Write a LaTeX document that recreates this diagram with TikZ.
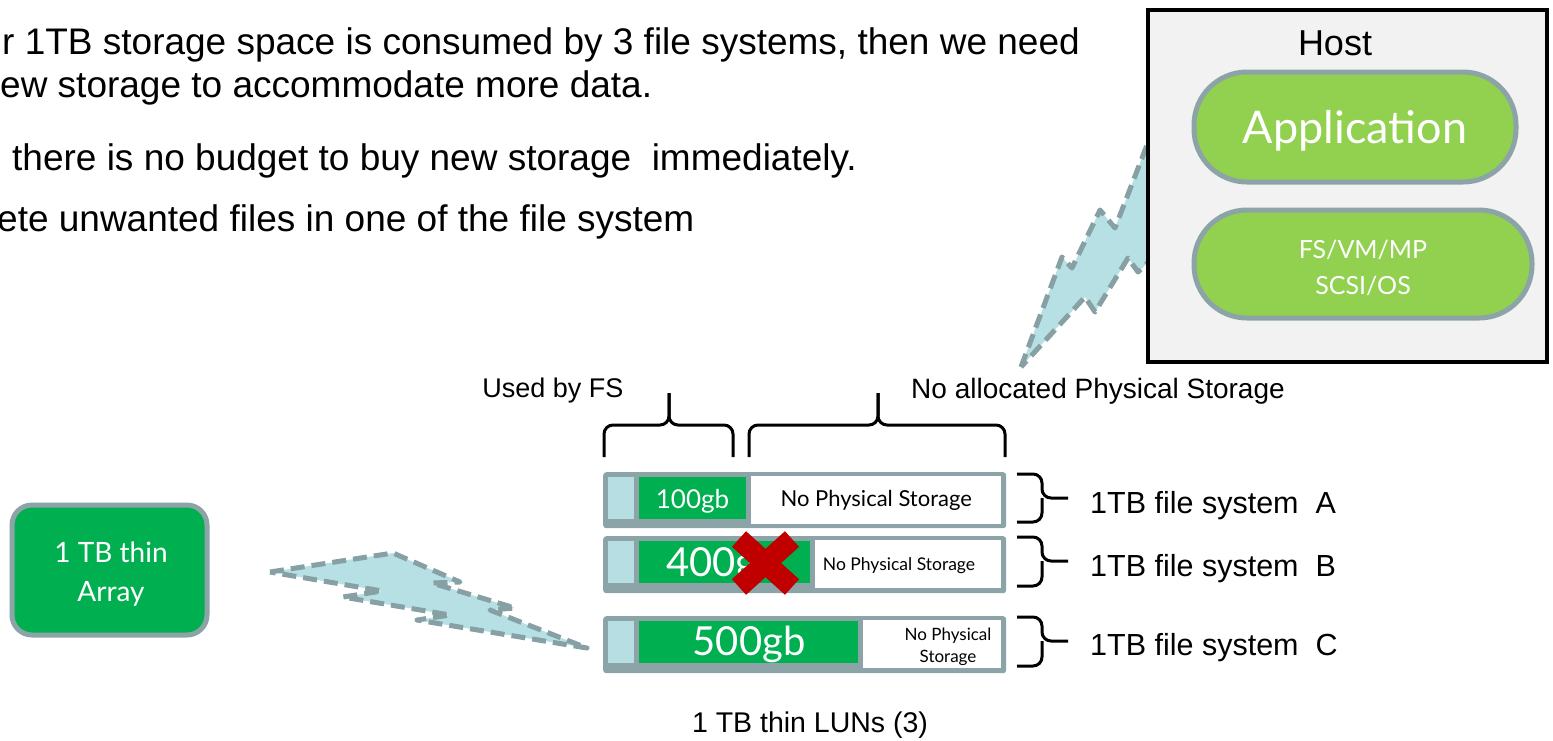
\documentclass[tikz,border=0pt]{standalone}
\usepackage{fontspec}
\setmainfont{Liberation Sans}
\newfontfamily\gill{Lato}
\definecolor{rim}{HTML}{8CA4A7}
\definecolor{boltfill}{HTML}{B7E0E4}
\definecolor{boltline}{HTML}{86A0A3}
\definecolor{appgreen}{HTML}{92D050}
\definecolor{lungreen}{HTML}{00B050}
\definecolor{hostgray}{HTML}{F2F2F2}
\definecolor{xred}{HTML}{C00000}
\definecolor{slotblue}{HTML}{B7DEE2}
\newcommand{\fs}[1]{\fontsize{#1}{1.2\dimexpr#1pt\relax}\selectfont}
\tikzset{
  bodytext/.style={inner sep=0pt, anchor=base west, font=\fs{37}},
  label/.style={inner sep=0pt, font=\fs{28}},
  bolt/.style={fill=boltfill, draw=boltline, line width=5pt, dash pattern=on 14pt off 7pt, line join=round},
  pill/.style={draw=rim, line width=5pt, fill=appgreen, rounded corners=53pt, inner sep=0pt},
  pilltext/.style={text=white, align=center, inner sep=0pt},
  lunbar/.style={fill=rim, rounded corners=3pt, inner sep=0pt, anchor=north west},
  part/.style={inner sep=0pt, anchor=north west},
  usedpart/.style={part, fill=lungreen},
  usedtext/.style={inner sep=0pt, text=white},
  freepart/.style={part, fill=white, align=center},
  brace/.style={draw=black, line width=3pt, rounded corners=9pt},
  xmark/.style={draw=xred, line width=21pt},
}
\begin{document}
\begin{tikzpicture}[x=1pt, y=-1pt]
\useasboundingbox (0,0) rectangle (1553,740);

% explanatory lines at the top
\node[bodytext] (t1) at (2,54) {r 1TB storage space is consumed by 3 file systems, then we need};
\node[bodytext] (t2) at (0,97) {ew storage to accommodate more data.};
\node[bodytext] (t3) at (12,170) {there is no budget to buy new storage\ \ immediately.};
\node[bodytext] (t4) at (-3,231) {ete unwanted files in one of the file system};

% link from the host down to the LUNs
\draw[bolt] (1021,367) -- (1062,257) -- (1072,268) -- (1100,210) -- (1115,228)
  -- (1142,158) -- (1155,124) -- (1155,256) -- (1138,272) -- (1128,258)
  -- (1095,312) -- (1085,297) -- cycle;

% host
\node[draw=black, line width=4pt, fill=hostgray, minimum width=399pt, minimum height=352pt, inner sep=0pt] (host) at (1347.5,186) {};
\node[inner sep=0pt, font=\fs{36}] (hostlbl) at (1335,43) {Host};
\node[pill, minimum width=322pt, minimum height=110pt] (app) at (1355,127) {};
\node[pilltext, font=\gill\fs{45}] (apptxt) at (1355,131) {Application};
\node[pill, minimum width=338pt, minimum height=108pt] (stack) at (1363,264) {};
\node[pilltext, font=\gill\fontsize{25}{36}\selectfont] (stacktxt) at (1363,268) {FS/VM/MP\\SCSI/OS};

% array
\node[draw=rim, line width=5pt, fill=lungreen, rounded corners=20pt, minimum width=195pt, minimum height=130pt, inner sep=0pt] (array) at (109.5,570) {};
\node[pilltext, font=\gill\fontsize{28}{39}\selectfont] (arraytxt) at (111,574) {1 TB thin\\Array};

% link from the array to the LUNs
\draw[bolt] (270,572) -- (393,553) -- (460,582) -- (432,583) -- (515,608) -- (490,610)
  -- (587,648) -- (417,620) -- (450,615) -- (343,597) -- (382,591) -- cycle;

% LUN A
\node[lunbar, minimum width=403pt, minimum height=56pt] (lunA) at (603,472) {};
\node[part, fill=slotblue, minimum width=26pt, minimum height=42pt] (slotA) at (608,477) {};
\node[usedpart, minimum width=107pt, minimum height=42pt] (usedA) at (639,477) {};
\node[usedtext, font=\gill\fs{26}] (usedAtxt) at (692.5,501) {100gb};
\node[freepart, minimum width=250pt, minimum height=48pt, font=\gill\fs{22}] (freeA) at (751,476) {No Physical Storage};

% LUN B
\node[lunbar, minimum width=403pt, minimum height=57pt] (lunB) at (603,536) {};
\node[part, fill=slotblue, minimum width=26pt, minimum height=42pt] (slotB) at (608,541) {};
\node[usedpart, minimum width=171pt, minimum height=42pt] (usedB) at (639,541) {};
\node[usedtext, anchor=west, font=\gill\fs{40}] (usedBtxt) at (666,565) {400gb};
\node[part, fill=white, minimum width=186pt, minimum height=48pt] (freeB) at (815,540) {};
\node[inner sep=0pt, font=\gill\fs{17.5}] (freeBtxt) at (899,566) {No Physical Storage};

% LUN C
\node[lunbar, minimum width=403pt, minimum height=57pt] (lunC) at (603,616) {};
\node[part, fill=slotblue, minimum width=26pt, minimum height=42pt] (slotC) at (608,621) {};
\node[usedpart, minimum width=219pt, minimum height=42pt] (usedC) at (639,621) {};
\node[usedtext, font=\gill\fs{40}] (usedCtxt) at (749,644) {500gb};
\node[part, fill=white, minimum width=138pt, minimum height=48pt] (freeC) at (863,620) {};
\node[inner sep=0pt, align=center, font=\gill\fontsize{17}{22}\selectfont] (freeCtxt) at (948,647) {No Physical\\Storage};

% deleted data
\draw[xmark] (739,539) -- (792,587);
\draw[xmark] (739,587) -- (792,539);

% braces over the LUNs
\draw[brace] (604,457) -- (604,425) -- (669,425) -- (669,393);
\draw[brace] (669,393) -- (669,425) -- (733,425) -- (733,457);
\draw[brace] (749,457) -- (749,425) -- (878,425) -- (878,393);
\draw[brace] (878,393) -- (878,425) -- (1005,425) -- (1005,457);
\node[label, font=\fs{27}] (used) at (553,391) {Used by FS};
\node[label] (noalloc) at (1098,391) {No allocated Physical Storage};

% braces beside the LUNs
\draw[brace] (1017,474) -- (1042,474) -- (1042,498) -- (1068,498);
\draw[brace] (1017,522) -- (1042,522) -- (1042,498);
\draw[brace] (1017,537) -- (1042,537) -- (1042,561) -- (1068,561);
\draw[brace] (1017,586) -- (1042,586) -- (1042,561);
\draw[brace] (1017,617) -- (1042,617) -- (1042,641) -- (1068,641);
\draw[brace] (1017,666) -- (1042,666) -- (1042,641);
\node[label, anchor=west, font=\fs{30.5}] (fsA) at (1090,506) {1TB file system\ \ A};
\node[label, anchor=west, font=\fs{30.5}] (fsB) at (1090,569) {1TB file system\ \ B};
\node[label, anchor=west, font=\fs{30.5}] (fsC) at (1090,648) {1TB file system\ \ C};

\node[label, font=\fs{28.5}] (luns) at (810,725) {1 TB thin LUNs (3)};
\end{tikzpicture}
\end{document}
